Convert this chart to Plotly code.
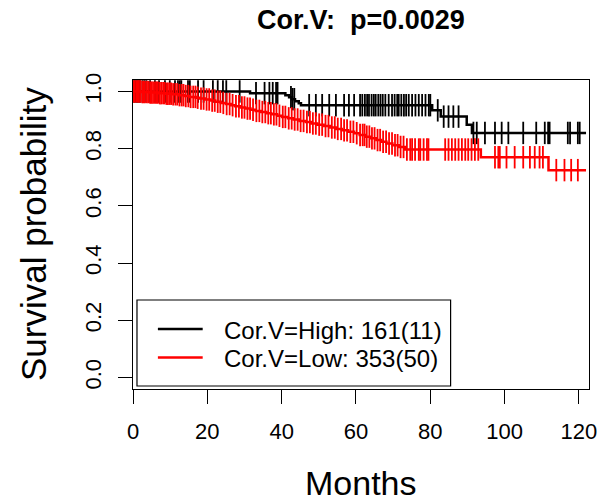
import numpy as np
import plotly.graph_objects as go

# ---------------- data ----------------
high_label = "Cor.V=High: 161(11)"
low_label = "Cor.V=Low: 353(50)"
title_text = "Cor.V:\u00a0 p=0.0029"

high_event_months = [31.5, 41.0, 42.0, 42.8, 43.6, 44.6, 45.2, 80.5, 82.8, 89.8, 91.2]
high_event_surv = [0.994, 0.987, 0.980, 0.973, 0.966, 0.959, 0.952, 0.934, 0.912, 0.884, 0.855]
high_censor_months = [
    0.3, 0.7, 1.1, 1.6, 2.0, 2.6, 3.1, 3.6, 4.6, 5.9, 7.0, 8.6, 9.9, 11.3, 12.1, 12.6,
    13.0, 14.8, 15.3, 17.5, 19.0, 21.5, 22.8, 24.2, 25.1, 28.7, 33.1, 35.4, 36.7, 37.6,
    38.5, 38.9, 42.5, 42.9, 43.4, 47.4, 49.2, 50.9, 52.8, 54.6, 56.8, 58.1, 59.5, 61.1,
    61.7, 62.4, 63.0, 63.5, 64.2, 64.8, 65.3, 66.0, 66.6, 67.2, 67.9, 68.8, 69.7, 70.4,
    71.1, 71.5, 72.2, 72.9, 73.5, 74.2, 75.1, 76.0, 76.9, 77.8, 78.7, 79.6, 80.0, 82.0,
    83.6, 84.9, 86.2, 87.6, 91.6, 92.5, 94.7, 97.4, 99.2, 101.0, 105.0, 108.5, 110.8,
    111.7, 112.1, 117.0, 117.6, 119.7, 120.2,
]
high_last_month = 121.9

low_event_months = [
    2.1, 4.5, 6.8, 8.9, 10.5, 12.3, 13.8, 15.2, 16.9, 18.0, 19.4, 20.8, 22.1, 23.6, 25.0,
    26.3, 27.5, 28.9, 30.2, 31.6, 33.0, 34.5, 35.9, 37.2, 38.8, 40.1, 41.7, 43.2, 44.8,
    46.5, 48.0, 49.6, 51.3, 53.0, 54.6, 56.2, 57.9, 59.5, 61.0, 62.6, 64.0, 65.5, 66.8,
    68.2, 69.8, 71.5, 73.2, 93.6, 111.8,
]
low_event_surv = [
    0.998, 0.996, 0.994, 0.992, 0.990, 0.987, 0.984, 0.981, 0.978, 0.975, 0.972, 0.968,
    0.964, 0.960, 0.956, 0.952, 0.948, 0.944, 0.940, 0.936, 0.932, 0.928, 0.924, 0.920,
    0.915, 0.911, 0.906, 0.902, 0.897, 0.893, 0.888, 0.884, 0.879, 0.874, 0.869, 0.864,
    0.859, 0.854, 0.848, 0.842, 0.836, 0.830, 0.824, 0.818, 0.812, 0.806, 0.797, 0.770,
    0.725,
]
low_censor_months = [
    0.2, 0.5, 0.9, 1.3, 1.6, 2.0, 2.5, 2.8, 3.2, 3.7, 4.1, 4.6, 5.0, 5.4, 5.9, 6.3, 6.7,
    7.2, 7.6, 8.1, 8.5, 9.0, 9.4, 9.9, 10.3, 10.8, 11.4, 11.9, 12.5, 13.1, 13.6, 14.2,
    14.9, 15.5, 16.2, 16.8, 17.4, 18.3, 19.0, 19.8, 20.5, 21.3, 22.0, 22.8, 23.5, 24.3,
    25.2, 26.0, 26.8, 27.7, 28.5, 29.3, 30.0, 30.8, 31.5, 32.3, 33.2, 34.0, 34.8, 35.6,
    36.4, 37.1, 37.9, 38.6, 39.4, 40.3, 41.0, 41.9, 42.7, 43.5, 44.3, 45.1, 45.9, 46.8,
    47.6, 48.4, 49.2, 50.1, 50.9, 51.8, 52.6, 53.5, 54.3, 55.1, 56.0, 56.8, 57.6, 58.5,
    59.3, 60.2, 61.1, 61.8, 62.3, 62.9, 63.6, 64.3, 65.0, 65.8, 66.5, 67.3, 68.1, 68.9,
    69.7, 70.5, 71.2, 72.0, 72.8, 73.7, 74.6, 75.1, 75.9, 76.9, 77.3, 78.2, 79.1, 79.5,
    84.0, 84.9, 85.8, 86.7, 87.6, 88.5, 89.4, 90.2, 91.1, 92.0, 92.9, 97.4, 98.3, 98.7,
    100.5, 102.7, 105.0, 106.8, 108.1, 109.4, 110.3, 113.9, 116.1, 117.9, 119.7,
]
low_last_month = 121.9

x_ticks = [0, 20, 40, 60, 80, 100, 120]
y_ticks = [0.0, 0.2, 0.4, 0.6, 0.8, 1.0]
y_tick_text = ["0.0", "0.2", "0.4", "0.6", "0.8", "1.0"]

# ---------------- helpers ----------------
def step_xy(ev_t, ev_s, end):
    xs = [0.0] + list(ev_t) + [end]
    ys = [1.0] + list(ev_s) + [ev_s[-1]]
    return xs, ys


def surv_at(ev_t, ev_s, times):
    ev_t = np.asarray(ev_t)
    ev_s = np.asarray(ev_s)
    idx = np.searchsorted(ev_t, np.asarray(times), side="right")
    return np.where(idx == 0, 1.0, ev_s[np.maximum(idx - 1, 0)])


FONT = "Liberation Sans, Arial, Helvetica, sans-serif"
fig = go.Figure()

groups = [
    ("black", high_event_months, high_event_surv, high_censor_months, high_last_month),
    ("#FF0000", low_event_months, low_event_surv, low_censor_months, low_last_month),
]
for color, et, es, ct, end in groups:
    xs, ys = step_xy(et, es, end)
    fig.add_trace(go.Scatter(x=xs, y=ys, mode="lines", line=dict(color=color, width=2.5, shape="hv"),
                             showlegend=False, hoverinfo="skip"))
    fig.add_trace(go.Scatter(x=ct, y=surv_at(et, es, ct), mode="markers",
                             marker=dict(symbol="line-ns", size=16, line=dict(color=color, width=1.8)),
                             showlegend=False, hoverinfo="skip"))

# plot area in pixels: x 133..591, y 80..389
L, R, T, B = 133, 591, 80, 389
W, H = 609, 501

def px(x):
    return (x - L) / (R - L)

def py(y):
    return (B - y) / (B - T)

shapes = [
    dict(type="rect", xref="paper", yref="paper", x0=px(137), x1=px(452), y0=py(386), y1=py(300),
         line=dict(color="black", width=1.2), fillcolor="white", layer="above"),
    dict(type="line", xref="paper", yref="paper", x0=px(158), x1=px(203), y0=py(329), y1=py(329),
         line=dict(color="black", width=2.5)),
    dict(type="line", xref="paper", yref="paper", x0=px(158), x1=px(203), y0=py(357.5), y1=py(357.5),
         line=dict(color="#FF0000", width=2.5)),
]

annotations = [
    dict(text=high_label, xref="paper", yref="paper", x=px(222), y=py(330), xanchor="left",
         yanchor="middle", showarrow=False, font=dict(family=FONT, size=24, color="black")),
    dict(text=low_label, xref="paper", yref="paper", x=px(222), y=py(358), xanchor="left",
         yanchor="middle", showarrow=False, font=dict(family=FONT, size=24, color="black")),
    dict(text="<b>" + title_text + "</b>", xref="paper", yref="paper", x=0.5, y=1, yshift=60,
         xanchor="center", yanchor="middle", showarrow=False, font=dict(family=FONT, size=27, color="black")),
    dict(text="Months", xref="paper", yref="paper", x=0.5, y=0, yshift=-94, xanchor="center",
         yanchor="middle", showarrow=False, font=dict(family=FONT, size=34, color="black")),
    dict(text="Survival probability", xref="paper", yref="paper", x=0, y=py(234), xshift=-100,
         xanchor="center", yanchor="middle", textangle=-90, showarrow=False,
         font=dict(family=FONT, size=35, color="black")),
]

fig.update_layout(
    width=W, height=H,
    margin=dict(l=L, r=W - R, t=T, b=H - B, pad=0),
    paper_bgcolor="white", plot_bgcolor="white",
    showlegend=False,
    shapes=shapes, annotations=annotations,
    font=dict(family=FONT, color="black"),
)
fig.update_xaxes(range=[0, 122.7], tickmode="array", tickvals=x_ticks, ticks="outside", ticklen=14,
                 tickwidth=1.3, tickcolor="black", showline=True, mirror=True, linecolor="black",
                 linewidth=1.3, showgrid=False, zeroline=False, tickfont=dict(size=22, family=FONT),
                 ticklabelstandoff=8)
fig.update_yaxes(range=[-0.04, 1.04], tickmode="array", tickvals=y_ticks, ticktext=y_tick_text,
                 tickangle=-90, ticks="outside", ticklen=14, tickwidth=1.3, tickcolor="black",
                 showline=True, mirror=True, linecolor="black", linewidth=1.3, showgrid=False,
                 zeroline=False, tickfont=dict(size=22, family=FONT), ticklabelstandoff=8)

fig.write_html("out.html")
